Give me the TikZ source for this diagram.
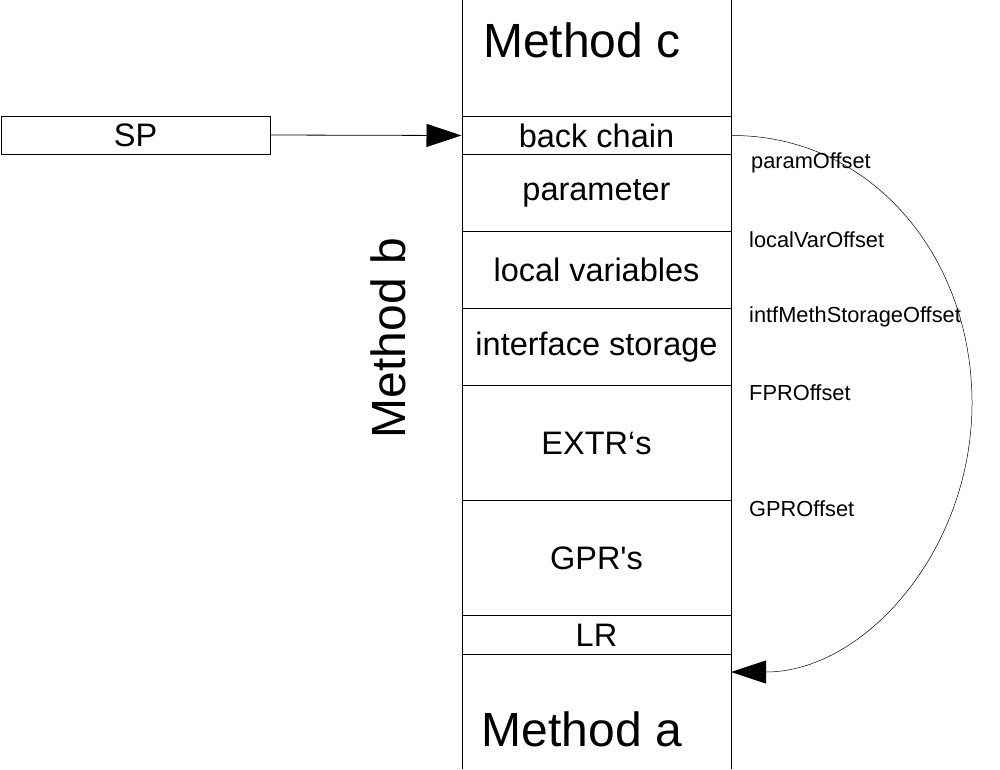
\documentclass[tikz,border=0pt]{standalone}
\usepackage{fontspec}
\setmainfont{Liberation Sans}
\usetikzlibrary{arrows.meta}
\begin{document}
\begin{tikzpicture}[x=1pt,y=-1pt,
  cell/.style={draw,line width=1pt,minimum width=269pt,inner sep=0pt,anchor=north,font=\fontsize{32.5}{32.5}\selectfont},
  open/.style={inner sep=0pt,font=\fontsize{48}{48}\selectfont},
  offs/.style={anchor=west,inner sep=0pt,font=\fontsize{21.8}{21.8}\selectfont},
  big/.style={-{Triangle[length=35pt,width=23pt]}}]
\useasboundingbox (0,0) rectangle (1000,769);
% column sides
\draw[line width=1pt] (462,0) -- (462,769) (731,0) -- (731,769);
\node[open] (mc) at (582,40) {Method c};
\node[cell,minimum height=38pt] (bc) at (596.5,116) {back chain};
\node[cell,minimum height=77pt] (pa) at (596.5,154) {parameter};
\node[cell,minimum height=77pt] (lv) at (596.5,231) {local variables};
\node[cell,minimum height=77pt] (is) at (596.5,308) {interface storage};
\node[cell,minimum height=115pt] (ex) at (596.5,385) {EXTR‘s};
\node[cell,minimum height=115pt] (gp) at (596.5,500) {GPR\textquotesingle s};
\node[cell,minimum height=39pt] (lr) at (596.5,615) {LR};
\node[open] (ma) at (582,729) {Method a};
\node[font=\fontsize{48}{48}\selectfont,rotate=90] (mb) at (388,338) {Method b};
% SP
\node[draw,line width=1pt,minimum width=269pt,minimum height=38pt,inner sep=0pt,font=\fontsize{32.5}{32.5}\selectfont] (sp) at (135.5,135) {SP};
\draw[line width=0.8pt,big] (sp.east) -- (bc.west);
% offsets
\node[offs] (o1) at (751,163) {paramOffset};
\node[offs] (o2) at (749,240) {localVarOffset};
\node[offs] (o3) at (749,317) {intfMethStorageOffset};
\node[offs] (o4) at (749,393) {FPROffset};
\node[offs] (o5) at (749,509) {GPROffset};
% curve
\coordinate (tgt) at (731,672);
\draw[line width=0.5pt,big] (bc.east) .. controls (870,135) and (972,255) .. (972,403)
  .. controls (972,551) and (864,672) .. (tgt);
\end{tikzpicture}
\end{document}
